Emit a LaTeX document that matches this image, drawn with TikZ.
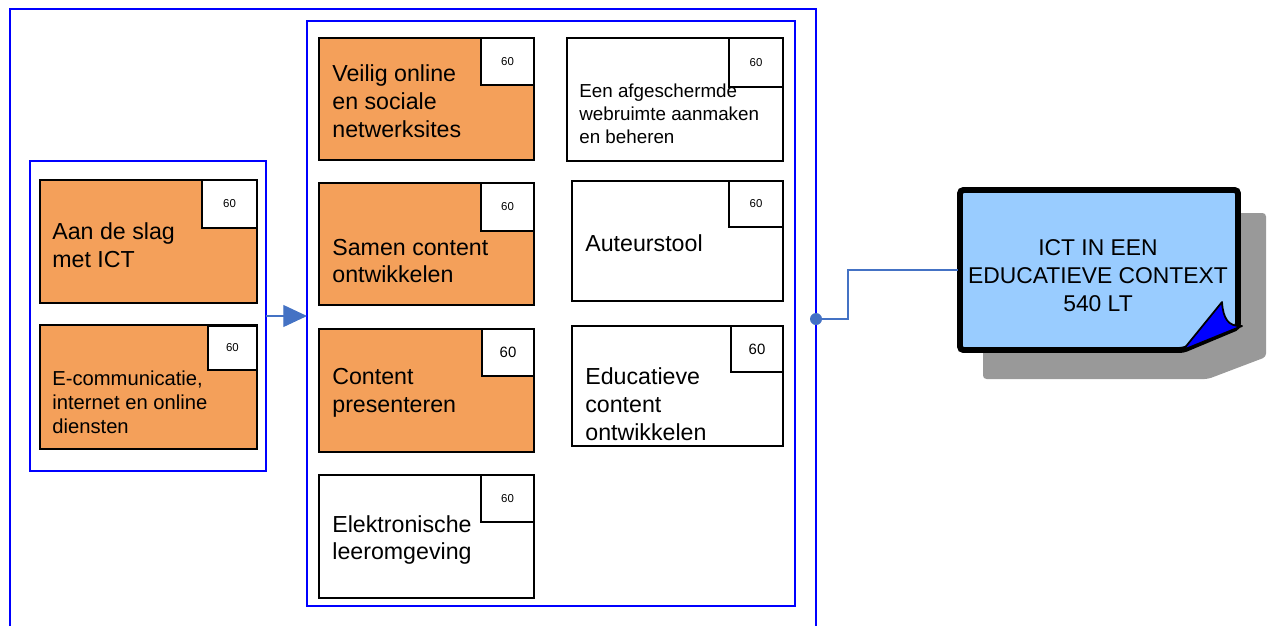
\documentclass[tikz,border=0pt]{standalone}
\usepackage{fontspec}
\setmainfont{Liberation Sans}
\usetikzlibrary{arrows.meta}

\definecolor{boxorange}{RGB}{244,160,90}
\definecolor{doclight}{RGB}{153,204,255}
\definecolor{linkblue}{RGB}{68,114,196}
\definecolor{shadowgray}{RGB}{153,153,153}

\tikzset{
	grp/.style={draw=blue, line width=1.2pt},
	obox/.style={draw, line width=1.1pt, fill=boxorange},
	wbox/.style={draw, line width=1.1pt, fill=white},
	tag/.style={draw, line width=1.1pt, fill=white},
	big/.style={anchor=west, align=left, inner sep=0pt, font=\fontsize{13.2}{15.9}\selectfont},
	mid/.style={anchor=west, align=left, inner sep=0pt, font=\fontsize{11.5}{13.6}\selectfont},
	sml/.style={anchor=west, align=left, inner sep=0pt, font=\fontsize{10.7}{13}\selectfont},
	num/.style={inner sep=0pt, font=\fontsize{6.5}{8}\selectfont},
	numbig/.style={inner sep=0pt, font=\fontsize{8.5}{10}\selectfont}
}

\begin{document}
\begin{tikzpicture}[x=0.02cm, y=-0.02cm]
	\useasboundingbox (0,0) rectangle (1275,626);
	% outer frame, cut off at the bottom
	\draw [grp] (10,626) -- (10,9) -- (816,9) -- (816,626);
	\draw [grp] (30,161) rectangle (266,471);
	\draw [grp] (307,21) rectangle (795,606);
	\coordinate (leftgrp) at (266,316);
	\coordinate (midgrp) at (307,316);
	\coordinate (outer) at (816,319);

	% left column
	\draw [obox] (40,180) rectangle (257,303);
	\draw [tag] (202,180) rectangle (257,228) node [num, midway] (t1) {60};
	\node [big] (aan) at (52,245) {Aan de slag\\met ICT};
	\draw [obox] (40,325) rectangle (257,449);
	\draw [tag] (208,326) rectangle (257,370) node [num, midway] (t2) {60};
	\node [mid] (ecom) at (52,402) {E-communicatie,\\internet en online\\diensten};

	% middle column
	\draw [obox] (319,38) rectangle (534,160);
	\draw [tag] (481,38) rectangle (534,85) node [num, midway] (t3) {60};
	\node [big] (veilig) at (332,101) {Veilig online\\en sociale\\netwerksites};
	\draw [obox] (319,183) rectangle (534,305);
	\draw [tag] (481,183) rectangle (534,231) node [num, midway] (t4) {60};
	\node [big] (samen) at (332,261) {Samen content\\ontwikkelen};
	\draw [obox] (319,329) rectangle (534,452);
	\draw [tag] (482,329) rectangle (534,376) node [numbig, midway] (t5) {60};
	\node [big] (present) at (332,393) {Content\\presenteren};
	\draw [wbox] (319,475) rectangle (534,598);
	\draw [tag] (481,475) rectangle (534,522) node [num, midway] (t6) {60};
	\node [big] (elo) at (332,540) {Elektronische\\leeromgeving};

	% right column
	\draw [wbox] (567,38) rectangle (783,161);
	\draw [tag] (729,38) rectangle (783,87) node [num, midway] (t7) {60};
	\node [sml] (webruimte) at (579,114) {Een afgeschermde\\webruimte aanmaken\\en beheren};
	\draw [wbox] (572,181) rectangle (783,301);
	\draw [tag] (729,181) rectangle (783,227) node [num, midway] (t8) {60};
	\node [big] (auteur) at (585,243) {Auteurstool};
	\draw [wbox] (572,326) rectangle (783,446);
	\draw [tag] (731,326) rectangle (783,372) node [numbig, midway] (t9) {60};
	\node [big] (educ) at (585,404) {Educatieve\\content\\ontwikkelen};

	% document with shadow and curled corner
	\fill [shadowgray, rounded corners=2pt] (983,213) -- (1266,213) -- (1266,357) -- (1208,379) -- (983,379) -- cycle;
	\draw [line width=3.4pt, fill=doclight, rounded corners=2pt] (960,190) -- (1238,190) -- (1238,327) -- (1183,350) -- (960,350) -- cycle;
	\draw [line width=1pt, fill=blue, line join=round] (1183,350) -- (1222,302) .. controls (1223,318) and (1228,327) .. (1242,326) -- cycle;
	\node [align=center, inner sep=0pt, font=\fontsize{13}{15.9}\selectfont] (ict) at (1098,276) {ICT IN EEN\\EDUCATIEVE CONTEXT\\540 LT};
	\coordinate (doc) at (958,270);

	% connectors
	\draw [linkblue, line width=0.7pt, -{Triangle[length=13.5pt, width=12.5pt]}] (leftgrp) -- (midgrp);
	\draw [linkblue, line width=0.7pt] (outer) -| (848,270) -- (doc);
	\fill [linkblue] (outer) circle (6);
\end{tikzpicture}
\end{document}
